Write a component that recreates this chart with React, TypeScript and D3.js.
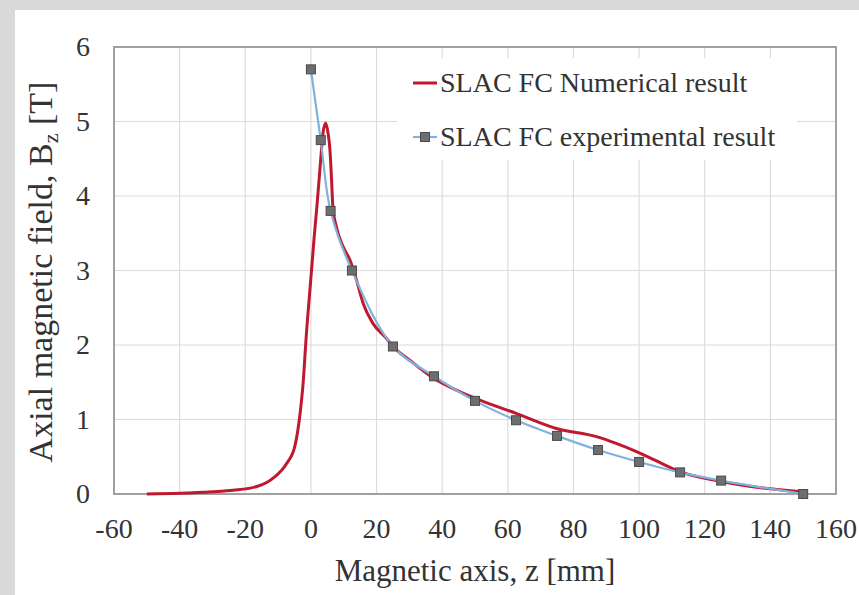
import React from "react";
import * as d3 from "d3";

const xTicks = [-60, -40, -20, 0, 20, 40, 60, 80, 100, 120, 140, 160];
const yTicks = [0, 1, 2, 3, 4, 5, 6];

const numX = [-50, -40, -30, -23.7, -16.5, -11.6, -7.4, -4.9, -3.3, -2.3, -1.5, 0, 1, 2, 3, 3.7, 4.5, 5.2, 5.8, 6.3, 6.7, 7.8, 9.8, 11.9, 13.9, 15.9, 18.9, 23, 25, 30, 37.5, 45, 51.5, 62.7, 74.8, 87, 93, 99.2, 105, 112.4, 124.6, 137.7, 150];
const numY = [0.0, 0.01, 0.03, 0.05, 0.1, 0.21, 0.41, 0.64, 1.08, 1.53, 2.07, 2.9, 3.45, 3.95, 4.5, 4.85, 4.98, 4.85, 4.62, 4.21, 3.85, 3.58, 3.32, 3.14, 2.87, 2.56, 2.29, 2.09, 1.98, 1.8, 1.55, 1.38, 1.26, 1.08, 0.88, 0.77, 0.68, 0.57, 0.45, 0.3, 0.17, 0.08, 0.03];

const expX = [0, 3, 6, 12.5, 25, 37.5, 50, 62.5, 75, 87.5, 100, 112.5, 125, 150];
const expY = [5.7, 4.75, 3.8, 3.0, 1.98, 1.58, 1.25, 0.99, 0.78, 0.59, 0.43, 0.29, 0.18, 0.0];

const legendLabels = ["SLAC FC Numerical result", "SLAC FC experimental result"];

const W = 859, H = 595;
const L = 114, R = 836, T = 47, B = 494;
const font = (px: number) => ({ font: `${px}px 'Liberation Serif', 'Times New Roman', serif` });
const RED = "#c0182f";
const BLUE = "#7fb2dc";

export default function App() {
  const x = d3.scaleLinear().domain([-60, 160]).range([L, R]);
  const y = d3.scaleLinear().domain([0, 6]).range([B, T]);
  const numPts: [number, number][] = numX.map((v, i) => [v, numY[i]]);
  const expPts: [number, number][] = expX.map((v, i) => [v, expY[i]]);
  const redLine = d3.line<[number, number]>().x(d => x(d[0])).y(d => y(d[1])).curve(d3.curveMonotoneX)(numPts) || "";
  const blueLine = d3.line<[number, number]>().x(d => x(d[0])).y(d => y(d[1])).curve(d3.curveCatmullRom.alpha(0.5))(expPts) || "";
  const ms = 9;
  return (
    <div style={{ position: "fixed", left: 0, top: 0 }}>
      <svg width={W} height={H} style={{ display: "block" }}>
        <rect x={0} y={0} width={W} height={H} fill="#d9d9d9" />
        <rect x={15} y={10} width={W - 15} height={H - 10} fill="#ffffff" />
        {xTicks.map(t => (
          <line key={"gx" + t} x1={x(t)} x2={x(t)} y1={T} y2={B} stroke="#dcdcdc" strokeWidth={1.2} />
        ))}
        {yTicks.map(t => (
          <line key={"gy" + t} x1={L} x2={R} y1={y(t)} y2={y(t)} stroke="#dcdcdc" strokeWidth={1.2} />
        ))}
        <rect x={397} y={58} width={400} height={102} fill="#ffffff" />
        <rect x={L} y={T} width={R - L} height={B - T} fill="none" stroke="#a0a0a0" strokeWidth={2} />
        {xTicks.map(t => (
          <text key={"tx" + t} x={x(t)} y={538} textAnchor="middle" style={font(28)} fill="#333">{t}</text>
        ))}
        {yTicks.map(t => (
          <text key={"ty" + t} x={90} y={y(t) + 9} textAnchor="end" style={font(28)} fill="#333">{t}</text>
        ))}
        <path d={redLine} fill="none" stroke={RED} strokeWidth={3} />
        <path d={blueLine} fill="none" stroke={BLUE} strokeWidth={2.2} />
        {expPts.map((d, i) => (
          <rect key={"m" + i} x={x(d[0]) - ms / 2} y={y(d[1]) - ms / 2} width={ms} height={ms} fill="#6e6e6e" stroke="#4a4a4a" strokeWidth={1} />
        ))}
        <text x={475} y={581} textAnchor="middle" style={font(31)} fill="#333">Magnetic axis, z [mm]</text>
        <text transform="translate(52,272) rotate(-90)" textAnchor="middle" style={font(34)} fill="#333">
          Axial magnetic field, B<tspan style={font(22)} dy={6}>z</tspan><tspan dy={-6}> [T]</tspan>
        </text>
        <line x1={413} x2={437} y1={83} y2={83} stroke={RED} strokeWidth={3} />
        <text x={440} y={92} style={font(28)} fill="#333">{legendLabels[0]}</text>
        <line x1={413} x2={437} y1={137} y2={137} stroke={BLUE} strokeWidth={2.2} />
        <rect x={425 - ms / 2} y={137 - ms / 2} width={ms} height={ms} fill="#6e6e6e" stroke="#4a4a4a" strokeWidth={1} />
        <text x={440} y={146} style={font(28)} fill="#333">{legendLabels[1]}</text>
      </svg>
    </div>
  );
}
